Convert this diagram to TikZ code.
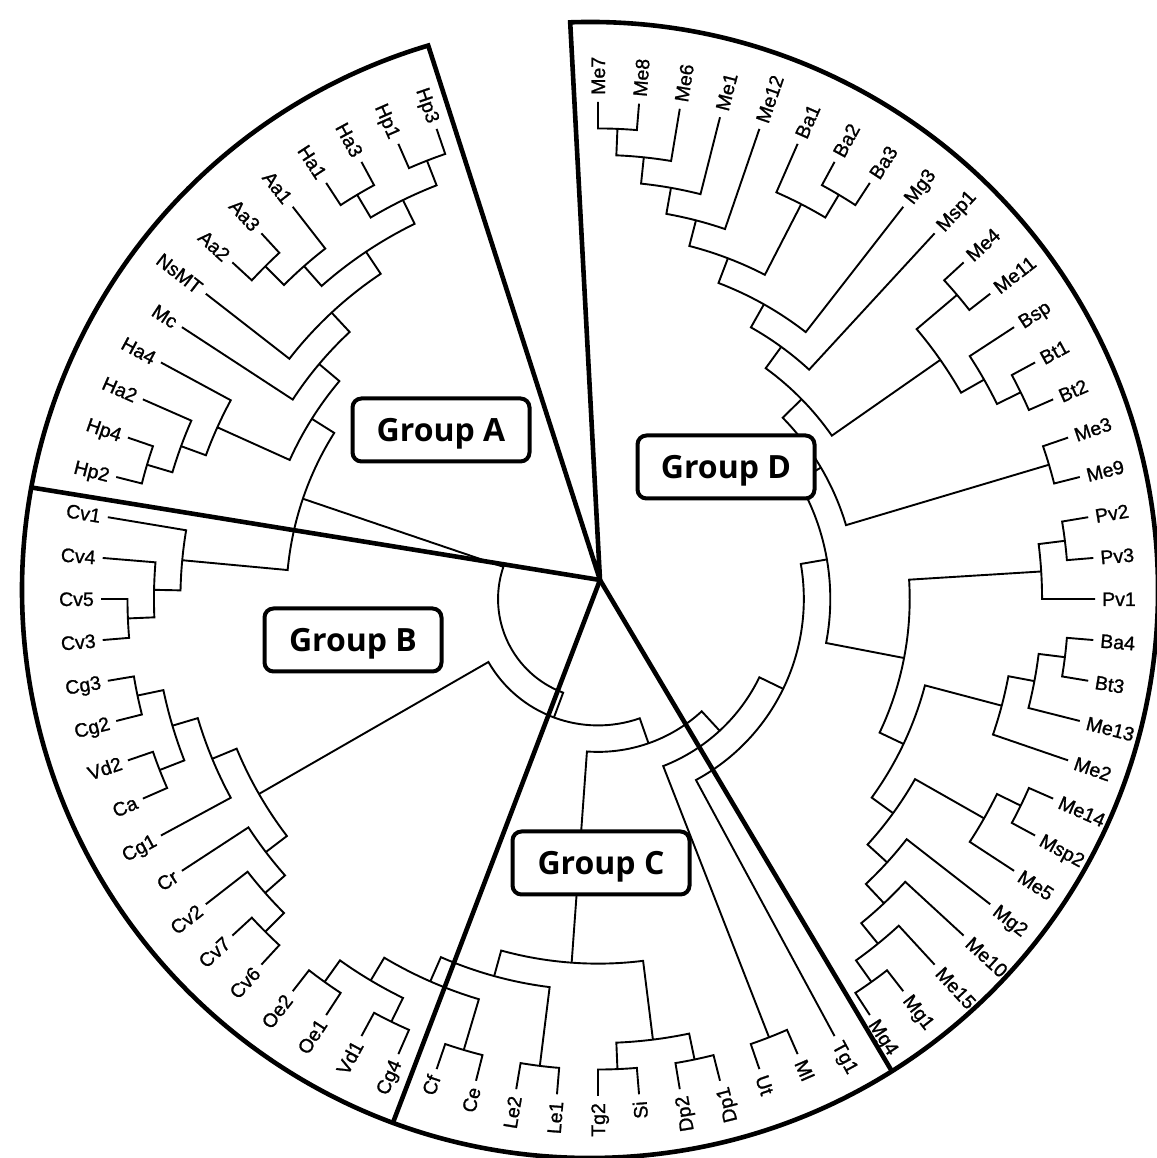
\documentclass[tikz,border=0pt]{standalone}
\usepackage{fontspec}
\setmainfont{Liberation Sans}[FakeBold=1]
\newfontfamily\labfont{Liberation Sans}[FakeBold=1.1]
\newfontfamily\grpfont{Open Sans}
\usetikzlibrary{calc}
\newcommand\dgset[2]{\expandafter\xdef\csname dgv#1\endcsname{#2}}
\newcommand\dgget[1]{\csname dgv#1\endcsname}
\newcommand\dglf[3]{%
  \pgfmathsetmacro\tmpa{90-360/76*#2}%
  \dgset{A#1}{\tmpa}\dgset{L#1}{0}%
  \coordinate (#1) at (\tmpa:\Rl pt);%
  \pgfmathtruncatemacro\tmpc{(\tmpa>-73)?1:0}%
  \ifnum\tmpc=1
    \node[lab,anchor=west,rotate=\tmpa] (t#1) at (\tmpa:\Rt pt) {#3};%
  \else
    \pgfmathsetmacro\tmpb{\tmpa+180}%
    \node[lab,anchor=east,rotate=\tmpb] (t#1) at (\tmpa:\Rt pt) {#3};%
  \fi}
\newcommand\dgjn[3]{%
  \edef\ja{\dgget{A#2}}\edef\jb{\dgget{A#3}}%
  \edef\la{\dgget{L#2}}\edef\lb{\dgget{L#3}}%
  \pgfmathsetmacro\jm{(\ja+\jb)/2}%
  \pgfmathtruncatemacro\jl{max(\la,\lb)+1}%
  \pgfmathsetmacro\jr{\Rl-\Step*\jl}%
  \dgset{A#1}{\jm}\dgset{L#1}{\jl}%
  \coordinate (#1) at (\jm:\jr pt);%
  \draw[br] (#2) -- (\ja:\jr pt) arc[start angle=\ja, end angle=\jb, radius=\jr pt] -- (#3);}
\begin{document}
\begin{tikzpicture}[x=1pt,y=1pt,
  br/.style={line width=1.9pt},
  lab/.style={font=\labfont\fontsize{19.5}{20}\selectfont, inner sep=0pt, text height=14pt, text depth=0pt},
  sepline/.style={line width=4.6pt},
  grp/.style={draw, line width=4pt, rounded corners=9pt, fill=white, minimum width=177pt, minimum height=63pt, inner sep=0pt, text height=23pt, text depth=0pt, font=\grpfont\bfseries\fontsize{32}{32}\selectfont}]
\useasboundingbox (0,0) rectangle (1156,1158);
\fill[white] (0,0) rectangle (1156,1158);
\begin{scope}[shift={(598,559)}]
\def\Rl{497}\def\Rt{504}\def\Step{26.47}
% leaves
\dglf{Me7}{0}{Me7}\dglf{Me8}{1}{Me8}\dglf{Me6}{2}{Me6}\dglf{Me1}{3}{Me1}
\dglf{Me12}{4}{Me12}\dglf{Ba1}{5}{Ba1}\dglf{Ba2}{6}{Ba2}\dglf{Ba3}{7}{Ba3}
\dglf{Mg3}{8}{Mg3}\dglf{Msp1}{9}{Msp1}\dglf{Me4}{10}{Me4}\dglf{Me11}{11}{Me11}
\dglf{Bsp}{12}{Bsp}\dglf{Bt1}{13}{Bt1}\dglf{Bt2}{14}{Bt2}\dglf{Me3}{15}{Me3}
\dglf{Me9}{16}{Me9}\dglf{Pv2}{17}{Pv2}\dglf{Pv3}{18}{Pv3}\dglf{Pv1}{19}{Pv1}
\dglf{Ba4}{20}{Ba4}\dglf{Bt3}{21}{Bt3}\dglf{Me13}{22}{Me13}\dglf{Me2}{23}{Me2}
\dglf{Me14}{24}{Me14}\dglf{Msp2}{25}{Msp2}\dglf{Me5}{26}{Me5}\dglf{Mg2}{27}{Mg2}
\dglf{Me10}{28}{Me10}\dglf{Me15}{29}{Me15}\dglf{Mg1}{30}{Mg1}\dglf{Mg4}{31}{Mg4}
\dglf{Tg1}{32}{Tg1}\dglf{Ml}{33}{Ml}\dglf{Ut}{34}{Ut}\dglf{Dp1}{35}{Dp1}
\dglf{Dp2}{36}{Dp2}\dglf{Si}{37}{Si}\dglf{Tg2}{38}{Tg2}\dglf{Le1}{39}{Le1}
\dglf{Le2}{40}{Le2}\dglf{Ce}{41}{Ce}\dglf{Cf}{42}{Cf}
\dglf{Cg4}{43}{Cg4}\dglf{Vd1}{44}{Vd1}\dglf{Oe1}{45}{Oe1}\dglf{Oe2}{46}{Oe2}
\dglf{Cv6}{47}{Cv6}\dglf{Cv7}{48}{Cv7}\dglf{Cv2}{49}{Cv2}\dglf{Cr}{50}{Cr}
\dglf{Cg1}{51}{Cg1}\dglf{Ca}{52}{Ca}\dglf{Vd2}{53}{Vd2}\dglf{Cg2}{54}{Cg2}
\dglf{Cg3}{55}{Cg3}\dglf{Cv3}{56}{Cv3}\dglf{Cv5}{57}{Cv5}\dglf{Cv4}{58}{Cv4}
\dglf{Cv1}{59}{Cv1}
\dglf{Hp2}{60}{Hp2}\dglf{Hp4}{61}{Hp4}\dglf{Ha2}{62}{Ha2}\dglf{Ha4}{63}{Ha4}
\dglf{Mc}{64}{Mc}\dglf{NsMT}{65}{NsMT}\dglf{Aa2}{66}{Aa2}\dglf{Aa3}{67}{Aa3}
\dglf{Aa1}{68}{Aa1}\dglf{Ha1}{69}{Ha1}\dglf{Ha3}{70}{Ha3}\dglf{Hp1}{71}{Hp1}
\dglf{Hp3}{72}{Hp3}
% group D
\dgjn{d1}{Me7}{Me8}\dgjn{d2}{d1}{Me6}\dgjn{d3}{d2}{Me1}\dgjn{d4}{d3}{Me12}
\dgjn{d5}{Ba2}{Ba3}\dgjn{d6}{Ba1}{d5}\dgjn{d7}{d4}{d6}\dgjn{d8}{d7}{Mg3}
\dgjn{d9}{d8}{Msp1}\dgjn{d10}{Me4}{Me11}\dgjn{d11}{Bt1}{Bt2}\dgjn{d12}{Bsp}{d11}
\dgjn{d13}{d10}{d12}\dgjn{d14}{d9}{d13}\dgjn{d15}{Me3}{Me9}\dgjn{d16}{d14}{d15}
\dgjn{d17}{Pv2}{Pv3}\dgjn{d18}{d17}{Pv1}
\dgjn{d19}{Ba4}{Bt3}\dgjn{d20}{d19}{Me13}\dgjn{d21}{d20}{Me2}
\dgjn{d22}{Me14}{Msp2}\dgjn{d23}{d22}{Me5}
\dgjn{d24}{Mg1}{Mg4}\dgjn{d25}{Me15}{d24}\dgjn{d26}{Me10}{d25}\dgjn{d27}{Mg2}{d26}
\dgjn{d28}{d23}{d27}\dgjn{d29}{d21}{d28}\dgjn{d30}{d18}{d29}\dgjn{d31}{d16}{d30}
\dgjn{q2}{d31}{Tg1}
% group C
\dgjn{c1}{Ml}{Ut}\dgjn{q3}{q2}{c1}
\dgjn{c2}{Dp1}{Dp2}\dgjn{c3}{Si}{Tg2}\dgjn{c4}{c2}{c3}
\dgjn{c5}{Le1}{Le2}\dgjn{c6}{Ce}{Cf}
\dgjn{b1}{Cg4}{Vd1}\dgjn{b2}{Oe1}{Oe2}\dgjn{b3}{b1}{b2}
\dgjn{c7}{c6}{b3}\dgjn{c8}{c5}{c7}\dgjn{c9}{c4}{c8}
\dgjn{z}{q3}{c9}
% group B
\dgjn{b4}{Cv6}{Cv7}\dgjn{b5}{b4}{Cv2}\dgjn{b6}{b5}{Cr}
\dgjn{b7}{Ca}{Vd2}\dgjn{b8}{Cg2}{Cg3}\dgjn{b9}{b7}{b8}\dgjn{b10}{Cg1}{b9}
\dgjn{b11}{b6}{b10}
\dgjn{x}{z}{b11}
\dgjn{b12}{Cv3}{Cv5}\dgjn{b13}{b12}{Cv4}\dgjn{b14}{b13}{Cv1}
% group A
\dgjn{a1}{Hp2}{Hp4}\dgjn{a2}{a1}{Ha2}\dgjn{a3}{a2}{Ha4}
\dgjn{a4}{Aa2}{Aa3}\dgjn{a5}{a4}{Aa1}\dgjn{a6}{Ha1}{Ha3}\dgjn{a7}{Hp1}{Hp3}
\dgjn{a8}{a6}{a7}\dgjn{a9}{a5}{a8}\dgjn{a10}{NsMT}{a9}\dgjn{a11}{Mc}{a10}
\dgjn{a12}{a3}{a11}
\dgjn{pab}{b14}{a12}
\dgjn{root}{x}{pab}
\end{scope}
% sector outline
\coordinate (oc) at (590,568);
\coordinate (hub) at (600,578);
\coordinate (pD) at ($(oc)+(92:568pt)$);
\coordinate (pA) at ($(oc)+(106.55:568pt)$);
\coordinate (pAB) at ($(oc)+(169.6:568pt)$);
\coordinate (pBC) at ($(oc)+(249.7:568pt)$);
\coordinate (pCD) at ($(oc)+(-57.9:568pt)$);
\draw[sepline] (hub) -- (pD) arc[start angle=92, end angle=-253.45, radius=568pt] -- (hub);
\draw[sepline] (hub) -- (pAB);
\draw[sepline] (hub) -- (pBC);
\draw[sepline] (hub) -- (pCD);
% group boxes
\node[grp] (gA) at (441,728) {Group A};
\node[grp] (gD) at (726,691) {Group D};
\node[grp] (gB) at (353,518) {Group B};
\node[grp] (gC) at (601,295) {Group C};
\end{tikzpicture}
\end{document}
